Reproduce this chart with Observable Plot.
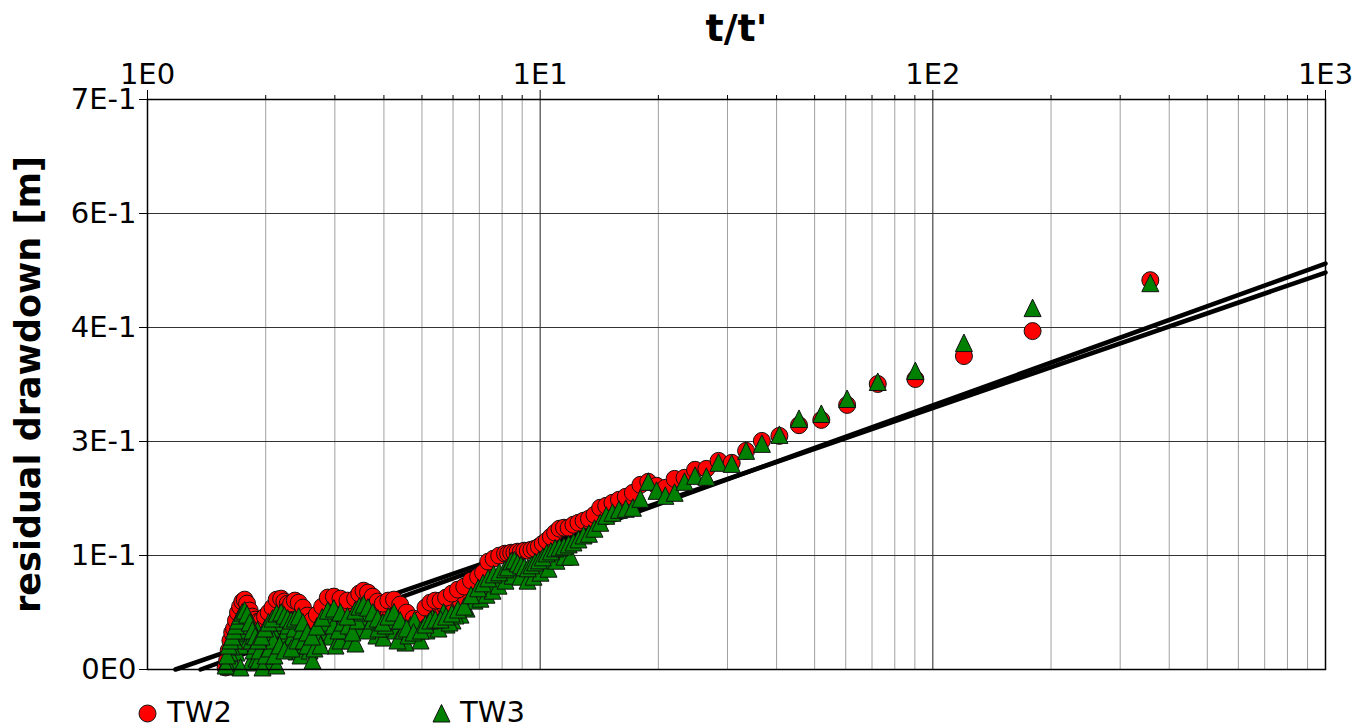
<!DOCTYPE html>
<html><head><meta charset="utf-8">
<script src="https://cdn.jsdelivr.net/npm/d3@7"></script>
<script src="https://cdn.jsdelivr.net/npm/@observablehq/plot@0.6"></script>
<style>
body{margin:0;background:#fff;font-family:"DejaVu Sans",sans-serif;}
#legend{position:relative;width:1364px;height:37px;font-size:29px;line-height:29px;color:#000;}
#legend span{position:absolute;top:8px;}
#legend svg{position:absolute;}
</style></head><body>
<div id="chart"></div>
<div id="legend">
  <svg style="left:138px;top:14px" width="19" height="19"><circle cx="9.5" cy="9.5" r="8.5" fill="red" stroke="#111" stroke-width="1"/></svg>
  <span style="left:167px">TW2</span>
  <svg style="left:432px;top:14px" width="19" height="19"><path d="M9.5,0.5L18,18L1,18Z" fill="green" stroke="#111" stroke-width="1"/></svg>
  <span style="left:460px">TW3</span>
</div>
<script>
// axis ticks and labels
const xMajor = [1, 10, 100, 1000];
const xLabels = ["1E0", "1E1", "1E2", "1E3"];
const xMinor = [2,3,4,5,6,7,8,9,20,30,40,50,60,70,80,90,200,300,400,500,600,700,800,900];
const yTicks = [0, 0.14, 0.28, 0.42, 0.56, 0.70];
const yLabels = ["0E0", "1E-1", "3E-1", "4E-1", "6E-1", "7E-1"];

// straight-line fits (t/t', residual drawdown)
const fitA_T = [1.365, 1000];
const fitA_S = [0, 0.4985];
const fitB_T = [1.178, 1000];
const fitB_S = [0, 0.4875];

// TW2 (red circles)
const tw2T = [1.581,1.595,1.610,1.626,1.643,1.661,1.680,1.700,1.721,1.744,1.768,1.793,1.821,1.850,1.881,1.915,1.952,1.992,2.035,2.082,2.133,2.190,2.231,2.275,2.322,2.373,2.428,2.488,2.552,2.623,2.700,2.785,2.879,2.983,3.100,3.231,3.380,3.462,3.550,3.644,3.746,3.856,3.975,4.104,4.245,4.400,4.570,4.758,4.967,5.103,5.250,5.407,5.577,5.760,5.958,6.174,6.409,6.667,6.950,7.155,7.375,7.611,7.865,8.140,8.286,8.438,8.596,8.761,8.933,9.114,9.302,9.500,9.707,9.925,10.154,10.395,10.649,10.917,11.200,11.500,11.818,12.156,12.516,12.900,13.310,13.750,14.222,14.731,15.280,15.875,16.522,17.227,18.000,18.850,19.789,20.833,22.000,23.313,24.800,26.500,28.462,30.750,33.455,36.700,40.667,45.625,52.000,60.500,72.400,90.250,120.00,179.50,358.00];
const tw2S = [0.0025,0.0110,0.0233,0.0356,0.0454,0.0503,0.0601,0.0699,0.0772,0.0834,0.0858,0.0809,0.0723,0.0650,0.0613,0.0588,0.0601,0.0650,0.0699,0.0760,0.0858,0.0870,0.0834,0.0809,0.0809,0.0846,0.0821,0.0760,0.0662,0.0601,0.0674,0.0772,0.0883,0.0895,0.0870,0.0846,0.0870,0.0932,0.0968,0.0944,0.0895,0.0834,0.0809,0.0846,0.0858,0.0797,0.0699,0.0625,0.0613,0.0760,0.0821,0.0846,0.0846,0.0883,0.0932,0.0981,0.1018,0.1091,0.1140,0.1189,0.1324,0.1361,0.1398,0.1422,0.1422,0.1434,0.1434,0.1447,0.1447,0.1459,0.1459,0.1471,0.1483,0.1508,0.1545,0.1581,0.1630,0.1680,0.1729,0.1741,0.1741,0.1778,0.1802,0.1827,0.1851,0.1900,0.1986,0.2010,0.2047,0.2084,0.2121,0.2170,0.2268,0.2305,0.2256,0.2231,0.2341,0.2354,0.2452,0.2464,0.2562,0.2538,0.2685,0.2807,0.2869,0.3000,0.3065,0.3249,0.3506,0.3567,0.3849,0.4156,0.4781];
const tw2LowT = [1.627,1.655,1.705,1.745,1.798,1.851,1.895,1.963,2.057,2.143,2.246,2.354,2.453,2.601,2.758,2.959,3.193,3.386,3.590,3.807,4.109,4.357,4.675,4.899,5.318,5.740,6.267];
const tw2LowS = [0.0233,0.0294,0.0503,0.0662,0.0539,0.0478,0.0417,0.0503,0.0576,0.0699,0.0674,0.0723,0.0674,0.0503,0.0625,0.0748,0.0699,0.0699,0.0809,0.0723,0.0723,0.0699,0.0576,0.0539,0.0699,0.0772,0.0846];

// TW3 (green triangles)
const tw3T = tw2T.slice();
const tw3S = [0.0049,0.0172,0.0294,0.0356,0.0405,0.0478,0.0539,0.0601,0.0662,0.0699,0.0723,0.0674,0.0576,0.0478,0.0405,0.0356,0.0405,0.0503,0.0576,0.0625,0.0687,0.0699,0.0662,0.0625,0.0601,0.0625,0.0650,0.0576,0.0454,0.0405,0.0527,0.0637,0.0723,0.0748,0.0699,0.0650,0.0723,0.0772,0.0797,0.0760,0.0699,0.0625,0.0576,0.0650,0.0699,0.0601,0.0503,0.0454,0.0478,0.0552,0.0601,0.0613,0.0613,0.0650,0.0687,0.0736,0.0772,0.0911,0.0997,0.1058,0.1119,0.1168,0.1193,0.1230,0.1254,0.1328,0.1340,0.1303,0.1279,0.1254,0.1242,0.1279,0.1315,0.1340,0.1377,0.1426,0.1450,0.1487,0.1499,0.1511,0.1536,0.1560,0.1597,0.1646,0.1667,0.1729,0.1802,0.1888,0.1925,0.1961,0.1974,0.1986,0.2096,0.2305,0.2194,0.2133,0.2170,0.2305,0.2378,0.2366,0.2538,0.2525,0.2685,0.2771,0.2881,0.3077,0.3138,0.3322,0.3531,0.3665,0.4009,0.4438,0.4744];
const tw3LowT = [1.608,1.646,1.685,1.725,1.756,1.777,1.809,1.829,1.862,1.895,1.917,1.963,2.010,2.057,2.081,2.118,2.169,2.220,2.259,2.299,2.340,2.396,2.453,2.511,2.586,2.632,2.726,2.791,2.857,2.924,3.011,3.101,3.193,3.288,3.386,3.486,3.590,3.697,3.829,3.990,4.157,4.281,4.409,4.540,4.675,4.842,5.015,5.195,5.445,5.774,5.980,6.267,6.492,6.804,7.047,7.300,7.561,7.833,8.161,8.502,8.911,9.285,9.617,10.02,10.50,11.00,11.53,11.95,1.725,1.963,2.130,
  1.589,1.617,1.637,1.665,1.685,1.715,1.735,1.756,1.787,1.809,1.840,1.862,1.884,1.906,1.929,1.975,1.998,2.022,2.045,2.069,2.094,2.106,2.143,2.169,2.195,2.233,2.286,2.327,2.368,2.410,2.467,2.497,2.556,2.662,2.694,2.758,2.823,2.890,2.976,3.065,3.138,3.250,3.327,3.426,3.527,3.632,3.741,3.874,4.037,4.206,4.332,4.487,4.620,4.786,4.957,5.134,5.318,5.509,5.673,5.875,6.086];
const tw3LowS = [0.0037,0.0110,0.0208,0.0294,0.0478,0.0576,0.0356,0.0086,0.0233,0.0135,0.0110,0.0257,0.0294,0.0098,0.0233,0.0356,0.0503,0.0417,0.0478,0.0331,0.0405,0.0221,0.0172,0.0294,0.0233,0.0110,0.0356,0.0454,0.0539,0.0405,0.0294,0.0356,0.0478,0.0356,0.0319,0.0503,0.0601,0.0539,0.0417,0.0392,0.0503,0.0478,0.0405,0.0331,0.0539,0.0478,0.0503,0.0576,0.0539,0.0552,0.0601,0.0674,0.0748,0.0846,0.0870,0.0919,0.0968,0.1030,0.1091,0.1152,0.1140,0.1091,0.1140,0.1189,0.1238,0.1336,0.1385,0.1385,0.0025,0.0025,0.0049,
  0.0086,0.0209,0.0282,0.0356,0.0454,0.0528,0.0602,0.0639,0.0479,0.0540,0.0356,0.0418,0.0295,0.0479,0.0233,0.0356,0.0172,0.0418,0.0258,0.0503,0.0356,0.0172,0.0602,0.0295,0.0577,0.0233,0.0540,0.0258,0.0503,0.0356,0.0479,0.0356,0.0295,0.0258,0.0418,0.0295,0.0577,0.0663,0.0540,0.0479,0.0577,0.0540,0.0454,0.0602,0.0700,0.0479,0.0602,0.0503,0.0540,0.0602,0.0356,0.0479,0.0418,0.0602,0.0356,0.0479,0.0626,0.0503,0.0700,0.0577,0.0663];

const pairs = (T, S) => T.map((t, i) => ({t, s: S[i]}));
const tw2 = pairs(tw2LowT, tw2LowS).concat(pairs(tw2T, tw2S));
const tw3 = pairs(tw3LowT, tw3LowS).concat(pairs(tw3T, tw3S));
const fitA = pairs(fitA_T, fitA_S);
const fitB = pairs(fitB_T, fitB_S);

const xFmt = new Map(xMajor.map((d, i) => [d, xLabels[i]]));
const yFmt = new Map(yTicks.map((d, i) => [d, yLabels[i]]));

const tri = {draw(ctx, size) {
  const r = Math.sqrt(size / Math.PI);
  ctx.moveTo(0, -r * 1.06);
  ctx.lineTo(r, r);
  ctx.lineTo(-r, r);
  ctx.closePath();
}};

const chart = Plot.plot({
  width: 1364,
  height: 690,
  marginTop: 99,
  marginRight: 39,
  marginBottom: 21,
  marginLeft: 147,
  style: {fontFamily: "DejaVu Sans", fontSize: "29px", background: "white", overflow: "visible", color: "black"},
  x: {type: "log", domain: [1, 1000]},
  y: {domain: [0, 0.7]},
  marks: [
    Plot.gridX(xMinor, {stroke: "#a0a0a0", strokeOpacity: 1, strokeWidth: 1}),
    Plot.gridX(xMajor, {stroke: "#222", strokeOpacity: 1, strokeWidth: 1}),
    Plot.gridY(yTicks, {stroke: "#333", strokeOpacity: 1, strokeWidth: 1}),
    Plot.line(fitA, {x: "t", y: "s", stroke: "black", strokeWidth: 4.5}),
    Plot.line(fitB, {x: "t", y: "s", stroke: "black", strokeWidth: 4.5}),
    Plot.dot(tw2, {x: "t", y: "s", r: 8.5, fill: "red", stroke: "#111", strokeWidth: 1}),
    Plot.dot(tw3, {x: "t", y: "s", r: 8.5, symbol: tri, fill: "green", stroke: "#111", strokeWidth: 1}),
    Plot.frame({stroke: "black", strokeWidth: 1.5}),
    Plot.axisX(xMinor, {anchor: "top", tickSize: 5, tickFormat: () => "", label: null, stroke: "black"}),
    Plot.axisX(xMajor, {anchor: "top", tickSize: 10, tickPadding: 6, tickFormat: d => xFmt.get(d), label: null, fontSize: 29, stroke: "black"}),
    Plot.axisY(yTicks, {anchor: "left", tickSize: 8, tickPadding: 3, tickFormat: d => yFmt.get(d), label: null, fontSize: 29, stroke: "black"}),
    Plot.text(["t/t'"], {frameAnchor: "top", dy: -71, text: d => d, fontWeight: "bold", fontSize: 38, textAnchor: "middle", lineAnchor: "middle"}),
    Plot.text(["residual drawdown [m]"], {frameAnchor: "left", dx: -119, text: d => d, rotate: -90, fontWeight: "bold", fontSize: 35, textAnchor: "middle", lineAnchor: "middle"})
  ]
});
document.getElementById("chart").appendChild(chart);
</script>
</body></html>
